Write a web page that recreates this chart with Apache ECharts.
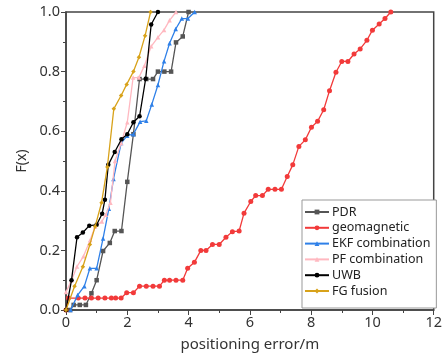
<!DOCTYPE html>
<html>
<head>
<meta charset="utf-8">
<script src="https://cdn.jsdelivr.net/npm/echarts@6/dist/echarts.min.js"></script>
<style>
  html, body { margin: 0; padding: 0; background: #fff; }
  #chart { width: 445px; height: 362px; }
</style>
</head>
<body>
<div id="chart"></div>
<script>
// CDF curves, [error in m, F(x)]
var pdr = [[0.13,0],[0.25,0.017],[0.45,0.017],[0.65,0.017],[0.83,0.056],[1.0,0.1],[1.21,0.198],[1.43,0.225],[1.59,0.265],[1.81,0.265],[2.0,0.43],[2.2,0.59],[2.4,0.775],[2.62,0.775],[2.84,0.775],[3.0,0.8],[3.21,0.8],[3.43,0.8],[3.59,0.898],[3.81,0.918],[4.0,1.0]];
var geomagnetic = [[0,0],[0.08,0.04],[0.4,0.04],[0.62,0.04],[0.83,0.04],[1.05,0.04],[1.27,0.04],[1.48,0.04],[1.62,0.04],[1.8,0.04],[1.98,0.058],[2.2,0.058],[2.4,0.08],[2.62,0.08],[2.84,0.08],[3.05,0.08],[3.21,0.1],[3.38,0.1],[3.59,0.1],[3.81,0.1],[3.97,0.14],[4.19,0.16],[4.4,0.2],[4.57,0.2],[4.78,0.22],[5.0,0.22],[5.22,0.244],[5.43,0.263],[5.65,0.265],[5.81,0.325],[6.03,0.364],[6.19,0.384],[6.41,0.384],[6.6,0.405],[6.82,0.405],[7.03,0.405],[7.22,0.448],[7.4,0.487],[7.6,0.549],[7.81,0.571],[8.01,0.613],[8.21,0.633],[8.41,0.672],[8.6,0.736],[8.81,0.798],[9.0,0.834],[9.2,0.834],[9.4,0.859],[9.6,0.876],[9.82,0.905],[10.0,0.939],[10.22,0.96],[10.41,0.978],[10.6,1.0]];
var ekf = [[0.15,0],[0.38,0.05],[0.6,0.08],[0.78,0.14],[1.0,0.14],[1.21,0.24],[1.4,0.34],[1.55,0.44],[1.8,0.56],[2.0,0.585],[2.2,0.59],[2.42,0.632],[2.62,0.635],[2.8,0.69],[3.0,0.755],[3.2,0.835],[3.38,0.895],[3.58,0.943],[3.78,0.978],[3.98,0.978],[4.2,1.0]];
var pf = [[0,0.06],[0.18,0.1],[0.36,0.146],[0.57,0.18],[0.79,0.235],[0.95,0.28],[1.17,0.297],[1.3,0.32],[1.45,0.36],[1.6,0.5],[1.8,0.56],[2.0,0.63],[2.19,0.78],[2.38,0.78],[2.56,0.82],[2.78,0.885],[3.0,0.915],[3.2,0.94],[3.38,0.972],[3.59,1.0]];
var uwb = [[0,0],[0.18,0.1],[0.36,0.244],[0.55,0.26],[0.76,0.283],[1.0,0.286],[1.18,0.323],[1.27,0.37],[1.38,0.487],[1.59,0.53],[1.81,0.573],[2.0,0.59],[2.2,0.63],[2.4,0.65],[2.6,0.776],[2.78,0.958],[3.0,1.0]];
var fgFusion = [[0,0],[0.28,0.08],[0.55,0.145],[0.78,0.22],[0.95,0.28],[1.16,0.36],[1.35,0.48],[1.56,0.675],[1.8,0.72],[1.98,0.757],[2.2,0.8],[2.38,0.848],[2.58,0.92],[2.76,1.0]];

var names = ["PDR", "geomagnetic", "EKF combination", "PF combination", "UWB", "FG fusion"];
var colors = ["#555555", "#f23a3a", "#2f80e8", "#ffb8c0", "#000000", "#d8a21a"];
var symbols = ["rect", "circle", "triangle", "triangle", "circle", "diamond"];
var seriesData = [pdr, geomagnetic, ekf, pf, uwb, fgFusion];

var fontFam = "'Noto Sans', 'Open Sans', sans-serif";

var chart = echarts.init(document.getElementById("chart"));

var series = names.map(function (n, i) {
  return {
    name: n,
    type: "line",
    data: seriesData[i],
    symbol: symbols[i],
    symbolSize: i === 1 ? 5 : 4.5,
    showAllSymbol: true,
    lineStyle: { color: colors[i], width: 1.3 },
    itemStyle: { color: colors[i] },
    z: 2 + i,
  };
});

var option = {
  animation: false,
  color: colors,
  grid: {
    left: 66,
    right: 8,
    top: 12,
    bottom: 52,
    show: true,
    borderColor: "#444",
    borderWidth: 1.5,
  },
  legend: {
    orient: "vertical",
    left: 302,
    top: 200,
    width: 135,
    itemWidth: 24,
    itemHeight: 6,
    itemGap: 1.8,
    padding: [5, 6, 10, 2],
    borderColor: "#999",
    borderWidth: 1,
    backgroundColor: "#fff",
    textStyle: { fontFamily: fontFam, fontSize: 12.5, color: "#222", lineHeight: 14, padding: [0, 0, 0, -2] },
    data: names,
  },
  xAxis: {
    type: "value",
    min: 0,
    max: 12,
    interval: 2,
    name: "positioning error/m",
    nameLocation: "middle",
    nameGap: 27,
    nameTextStyle: { fontFamily: fontFam, fontSize: 15, color: "#333" },
    axisLine: { lineStyle: { color: "#444", width: 1.5 } },
    axisTick: { length: 5, lineStyle: { color: "#444" } },
    minorTick: { show: true, splitNumber: 2, length: 3, lineStyle: { color: "#444" } },
    axisLabel: { fontFamily: fontFam, fontSize: 14.5, color: "#333", margin: 5 },
    splitLine: { show: false },
  },
  yAxis: {
    type: "value",
    min: 0,
    max: 1,
    interval: 0.2,
    name: "F(x)",
    nameLocation: "middle",
    nameGap: 37,
    nameRotate: 90,
    nameTextStyle: { fontFamily: fontFam, fontSize: 14, color: "#333" },
    axisLine: { show: true, lineStyle: { color: "#444", width: 1.5 } },
    axisTick: { show: true, length: 5, lineStyle: { color: "#444" } },
    minorTick: { show: true, splitNumber: 2, length: 3, lineStyle: { color: "#444" } },
    axisLabel: {
      fontFamily: fontFam,
      fontSize: 14.5,
      color: "#333",
      margin: 6,
      formatter: function (v) { return v.toFixed(1); },
    },
    splitLine: { show: false },
  },
  series: series,
};

chart.setOption(option);
</script>
</body>
</html>
